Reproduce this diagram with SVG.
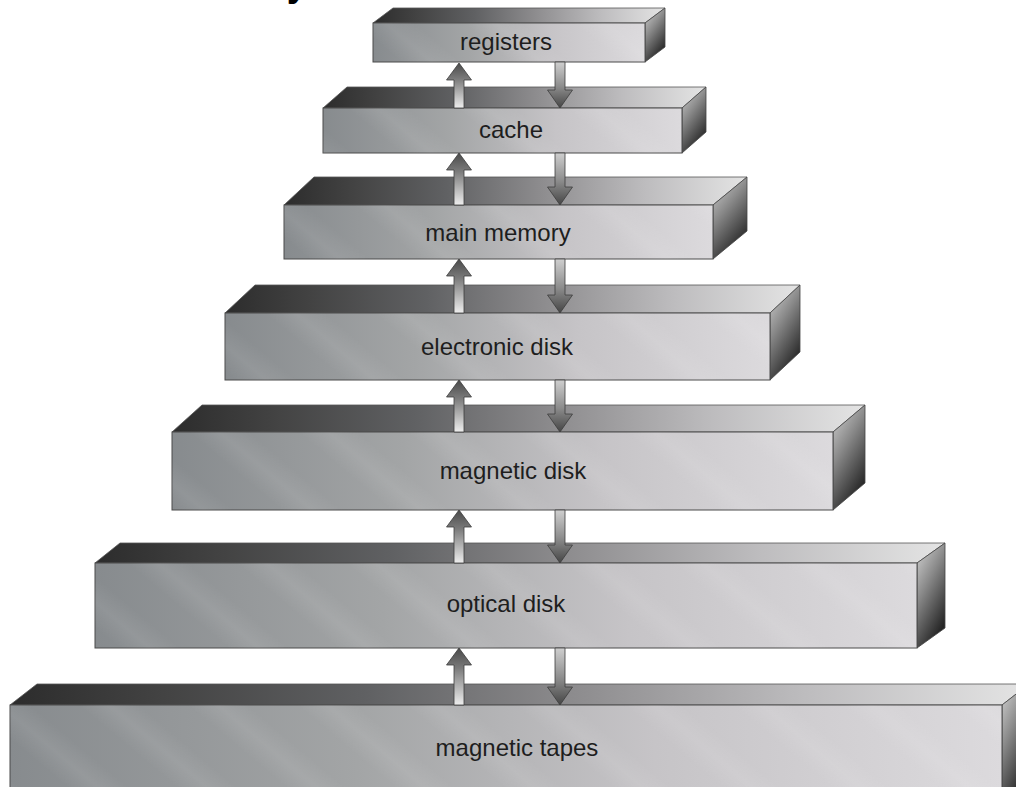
<svg xmlns="http://www.w3.org/2000/svg" width="1016" height="787" viewBox="0 0 1016 787">
<defs>
<linearGradient id="gFront" x1="0" y1="0" x2="1" y2="0">
<stop offset="0" stop-color="#878b8e"/>
<stop offset="0.35" stop-color="#a3a5a6"/>
<stop offset="0.65" stop-color="#c6c4c7"/>
<stop offset="1" stop-color="#dcdadd"/>
</linearGradient>
<linearGradient id="gTop" x1="0" y1="0" x2="1" y2="0">
<stop offset="0" stop-color="#2c2c2c"/>
<stop offset="0.15" stop-color="#434343"/>
<stop offset="0.35" stop-color="#606163"/>
<stop offset="0.55" stop-color="#8c8b8d"/>
<stop offset="0.78" stop-color="#bdbcbe"/>
<stop offset="1" stop-color="#e4e4e4"/>
</linearGradient>
<linearGradient id="gSide" x1="0" y1="0" x2="0.5" y2="1">
<stop offset="0" stop-color="#d6d6d6"/>
<stop offset="0.45" stop-color="#8a8a8a"/>
<stop offset="1" stop-color="#262626"/>
</linearGradient>
<linearGradient id="gUp" x1="0" y1="0" x2="0" y2="1">
<stop offset="0" stop-color="#4a4a4a"/>
<stop offset="0.35" stop-color="#7a7a7a"/>
<stop offset="1" stop-color="#eeeeee"/>
</linearGradient>
<linearGradient id="gDown" x1="0" y1="0" x2="0" y2="1">
<stop offset="0" stop-color="#cfcfcf"/>
<stop offset="0.55" stop-color="#8a8a8a"/>
<stop offset="1" stop-color="#454545"/>
</linearGradient>
<linearGradient id="gBand" x1="0" y1="0" x2="1" y2="0">
<stop offset="0" stop-color="#ffffff" stop-opacity="0"/>
<stop offset="0.5" stop-color="#ffffff" stop-opacity="0.08"/>
<stop offset="1" stop-color="#ffffff" stop-opacity="0"/>
</linearGradient>
<pattern id="pStripe" patternUnits="userSpaceOnUse" width="70" height="20" patternTransform="rotate(-50)">
<rect x="0" y="0" width="40" height="20" fill="url(#gBand)"/>
</pattern>
</defs>
<style>
.front{fill:url(#gFront);stroke:#4a4a4a;stroke-width:1}
.stripe{fill:url(#pStripe);stroke:none}
.top{fill:url(#gTop);stroke:#555;stroke-width:0.8}
.side{fill:url(#gSide);stroke:#444;stroke-width:0.8}
.lbl{font-family:"Liberation Sans",Arial,sans-serif;font-size:24px;fill:#1e1e1e;text-anchor:middle}
.up{fill:url(#gUp);stroke:#3c3c3c;stroke-width:0.8}
.down{fill:url(#gDown);stroke:#3c3c3c;stroke-width:0.8}
.title{font-family:"Liberation Sans",Arial,sans-serif;font-size:38px;font-weight:bold;fill:#000;text-anchor:end}
</style>
<text class="title" x="308" y="-4">Storage-Device Hierarchy</text>

<g id="registers">
<polygon class="top" points="373,23 393,8 665,8 645,23"/>
<polygon class="side" points="645,23 665,8 665,47 645,62"/>
<rect class="front" x="373" y="23" width="272" height="39"/>
<rect class="stripe" x="373" y="23" width="272" height="39"/>
<text class="lbl" x="506" y="50">registers</text>
</g>
<g id="cache">
<polygon class="top" points="323,108 347,87 706,87 682,108"/>
<polygon class="side" points="682,108 706,87 706,132 682,153"/>
<rect class="front" x="323" y="108" width="359" height="45"/>
<rect class="stripe" x="323" y="108" width="359" height="45"/>
<text class="lbl" x="511" y="138">cache</text>
</g>
<g id="main-memory">
<polygon class="top" points="284,205 314,177 747,177 713,205"/>
<polygon class="side" points="713,205 747,177 747,231 713,259"/>
<rect class="front" x="284" y="205" width="429" height="54"/>
<rect class="stripe" x="284" y="205" width="429" height="54"/>
<text class="lbl" x="498" y="241">main memory</text>
</g>
<g id="electronic-disk">
<polygon class="top" points="225,313 255,285 800,285 770,313"/>
<polygon class="side" points="770,313 800,285 800,352 770,380"/>
<rect class="front" x="225" y="313" width="545" height="67"/>
<rect class="stripe" x="225" y="313" width="545" height="67"/>
<text class="lbl" x="497" y="355">electronic disk</text>
</g>
<g id="magnetic-disk">
<polygon class="top" points="172,432 202,405 865,405 833,432"/>
<polygon class="side" points="833,432 865,405 865,483 833,510"/>
<rect class="front" x="172" y="432" width="661" height="78"/>
<rect class="stripe" x="172" y="432" width="661" height="78"/>
<text class="lbl" x="513" y="479">magnetic disk</text>
</g>
<g id="optical-disk">
<polygon class="top" points="95,563 120,543 945,543 917,563"/>
<polygon class="side" points="917,563 945,543 945,628 917,648"/>
<rect class="front" x="95" y="563" width="822" height="85"/>
<rect class="stripe" x="95" y="563" width="822" height="85"/>
<text class="lbl" x="506" y="612">optical disk</text>
</g>
<g id="magnetic-tapes">
<polygon class="top" points="10,705 37,684 1029,684 1002,705"/>
<polygon class="side" points="1002,705 1029,684 1029,780 1002,801"/>
<rect class="front" x="10" y="705" width="992" height="96"/>
<rect class="stripe" x="10" y="705" width="992" height="96"/>
<text class="lbl" x="517" y="756">magnetic tapes</text>
</g>

<g id="connectors">
<path class="up" d="M459,63 L471.5,80 L464,80 L464,108 L454,108 L454,80 L446.5,80 Z"/>
<path class="down" d="M555,62 L565,62 L565,90 L572.5,90 L560,108 L547.5,90 L555,90 Z"/>
<path class="up" d="M459,153 L471.5,170 L464,170 L464,205 L454,205 L454,170 L446.5,170 Z"/>
<path class="down" d="M555,153 L565,153 L565,187 L572.5,187 L560,205 L547.5,187 L555,187 Z"/>
<path class="up" d="M459,259 L471.5,276 L464,276 L464,313 L454,313 L454,276 L446.5,276 Z"/>
<path class="down" d="M555,259 L565,259 L565,295 L572.5,295 L560,313 L547.5,295 L555,295 Z"/>
<path class="up" d="M459,380 L471.5,397 L464,397 L464,432 L454,432 L454,397 L446.5,397 Z"/>
<path class="down" d="M555,380 L565,380 L565,414 L572.5,414 L560,432 L547.5,414 L555,414 Z"/>
<path class="up" d="M459,510 L471.5,527 L464,527 L464,563 L454,563 L454,527 L446.5,527 Z"/>
<path class="down" d="M555,510 L565,510 L565,545 L572.5,545 L560,563 L547.5,545 L555,545 Z"/>
<path class="up" d="M459,648 L471.5,665 L464,665 L464,705 L454,705 L454,665 L446.5,665 Z"/>
<path class="down" d="M555,648 L565,648 L565,687 L572.5,687 L560,705 L547.5,687 L555,687 Z"/>
</g>
</svg>
